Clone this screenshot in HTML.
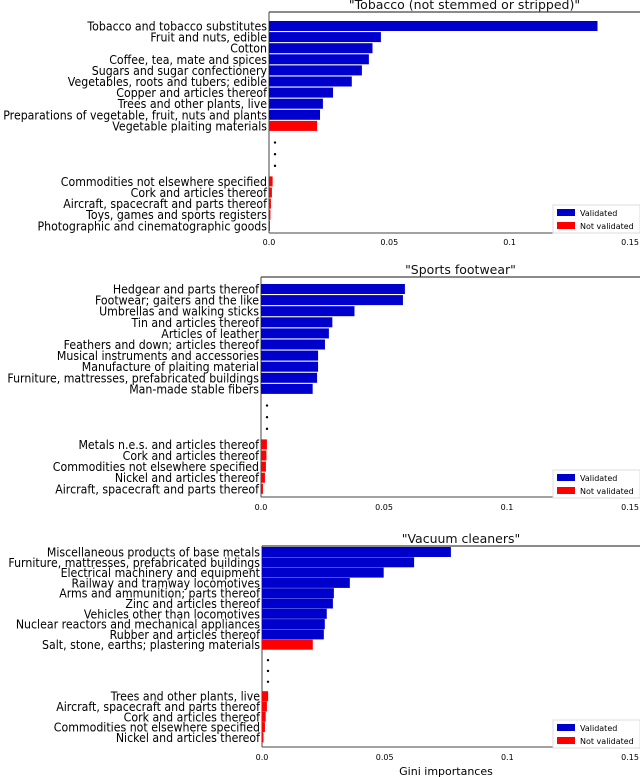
<!DOCTYPE html>
<html><head><meta charset="utf-8"><style>
html,body{margin:0;padding:0;background:#fff;}
svg{display:block;font-family:"DejaVu Sans","Liberation Sans",sans-serif;}
</style></head><body>
<svg id="c" width="640" height="777" viewBox="0 0 640 777"></svg>
<script>
const titles = ['"Tobacco (not stemmed or stripped)"', '"Sports footwear"', '"Vacuum cleaners"'];
const labels1 = ["Tobacco and tobacco substitutes","Fruit and nuts, edible","Cotton","Coffee, tea, mate and spices","Sugars and sugar confectionery","Vegetables, roots and tubers; edible","Copper and articles thereof","Trees and other plants, live","Preparations of vegetable, fruit, nuts and plants","Vegetable plaiting materials","Commodities not elsewhere specified","Cork and articles thereof","Aircraft, spacecraft and parts thereof","Toys, games and sports registers","Photographic and cinematographic goods"];
const values1 = [0.1365,0.0465,0.043,0.0415,0.0386,0.0344,0.0266,0.0224,0.0212,0.020,0.0015,0.0012,0.0008,0.0006,0.0004];
const valid1 = [1,1,1,1,1,1,1,1,1,0,0,0,0,0,0];
const labels2 = ["Hedgear and parts thereof","Footwear; gaiters and the like","Umbrellas and walking sticks","Tin and articles thereof","Articles of leather","Feathers and down; articles thereof","Musical instruments and accessories","Manufacture of plaiting material","Furniture, mattresses, prefabricated buildings","Man-made stable fibers","Metals n.e.s. and articles thereof","Cork and articles thereof","Commodities not elsewhere specified","Nickel and articles thereof","Aircraft, spacecraft and parts thereof"];
const values2 = [0.0585,0.0577,0.038,0.029,0.0276,0.026,0.0232,0.0232,0.0228,0.021,0.0024,0.0022,0.002,0.0016,0.0008];
const valid2 = [1,1,1,1,1,1,1,1,1,1,0,0,0,0,0];
const labels3 = ["Miscellaneous products of base metals","Furniture, mattresses, prefabricated buildings","Electrical machinery and equipment","Railway and tramway locomotives","Arms and ammunition; parts thereof","Zinc and articles thereof","Vehicles other than locomotives","Nuclear reactors and mechanical appliances","Rubber and articles thereof","Salt, stone, earths; plastering materials","Trees and other plants, live","Aircraft, spacecraft and parts thereof","Cork and articles thereof","Commodities not elsewhere specified","Nickel and articles thereof"];
const values3 = [0.077,0.062,0.0496,0.0358,0.0293,0.0289,0.0264,0.0256,0.0252,0.0207,0.0025,0.002,0.0015,0.0012,0.0006];
const valid3 = [1,1,1,1,1,1,1,1,1,0,0,0,0,0,0];
const ticks = [0,0.05,0.1,0.15];
const tickLabels = ["0.0","0.05","0.1","0.15"];

const panels = [
 {labels:labels1,values:values1,valid:valid1,x0:269,x15:630,top:12,first:26,step:11.1,gap:4,bottom:233,tickY:245,legY:205},
 {labels:labels2,values:values2,valid:valid2,x0:261,x15:630,top:277,first:289,step:11.1,gap:4,bottom:497,tickY:510,legY:470},
 {labels:labels3,values:values3,valid:valid3,x0:262,x15:630,top:546,first:552,step:10.3,gap:4,bottom:747,tickY:760,legY:720}
];
const NS="http://www.w3.org/2000/svg";
const svg=document.getElementById('c');
function mk(tag,attrs,parent){const e=document.createElementNS(NS,tag);for(const k in attrs)e.setAttribute(k,attrs[k]);(parent||svg).appendChild(e);return e;}
panels.forEach((p,pi)=>{
  const g=mk('g',{});
  
  
  const xs=v=>p.x0+(v/0.15)*(p.x15-p.x0);
  const yRow=i=>p.first+(i<10?i:i+p.gap)*p.step;
  const t=mk('text',{x:(p.x0+640)/2+10,y:p.top-3,'font-size':12.5,'text-anchor':'middle',fill:'#111'},g);
  t.textContent=titles[pi];
  
  
  const sp=mk('line',{x1:p.x0,x2:640,y1:p.top,y2:p.top,stroke:'#444','stroke-width':1.2},g);
  
  
  const sl=mk('line',{x1:p.x0,x2:p.x0,y1:p.top,y2:p.bottom,stroke:'#444','stroke-width':1},g);
  
  
  const sb=mk('line',{x1:p.x0,x2:640,y1:p.bottom,y2:p.bottom,stroke:'#444','stroke-width':1},g);
  
  
  p.values.forEach((v,i)=>{
    const y=yRow(i);
    const r=mk('rect',{x:p.x0,y:y-5,width:Math.max(1,xs(v)-p.x0),height:10,fill:p.valid[i]?'#0000cc':'#ff0000'},g);
    
    
    const lt=mk('text',{transform:`translate(${p.x0-2},${y+4.5}) scale(0.88,1)`,'font-size':12.5,'text-anchor':'end',fill:'#000'},g);
    lt.textContent=p.labels[i];
    
    
  });
  for(let d=0;d<3;d++){
    const c=mk('circle',{cx:p.x0+6,cy:yRow(9)+p.step*(1.5+d*1.05),r:1.2,fill:'#000'},g);
    
    
  }
  ticks.forEach((tv,ti)=>{
    const tt=mk('text',{x:xs(tv),y:p.tickY,'font-size':8,'text-anchor':'middle',fill:'#000'},g);
    tt.textContent=tickLabels[ti];
    
    
  });
  const lg=mk('g',{},g);
  
  
  mk('rect',{x:553,y:p.legY,width:87,height:28,fill:'#fff',stroke:'#ddd'},lg);
  mk('rect',{x:557,y:p.legY+4,width:18,height:7,fill:'#0000cc'},lg);
  mk('rect',{x:557,y:p.legY+17,width:18,height:7,fill:'#ff0000'},lg);
  const l1=mk('text',{x:580,y:p.legY+11,'font-size':8,fill:'#000'},lg);l1.textContent='Validated';
  const l2=mk('text',{x:580,y:p.legY+24,'font-size':8,fill:'#000'},lg);l2.textContent='Not validated';
});
const xt=mk('text',{x:446,y:775,'font-size':11,'text-anchor':'middle',fill:'#000'});
xt.textContent='Gini importances';


</script>
</body></html>
